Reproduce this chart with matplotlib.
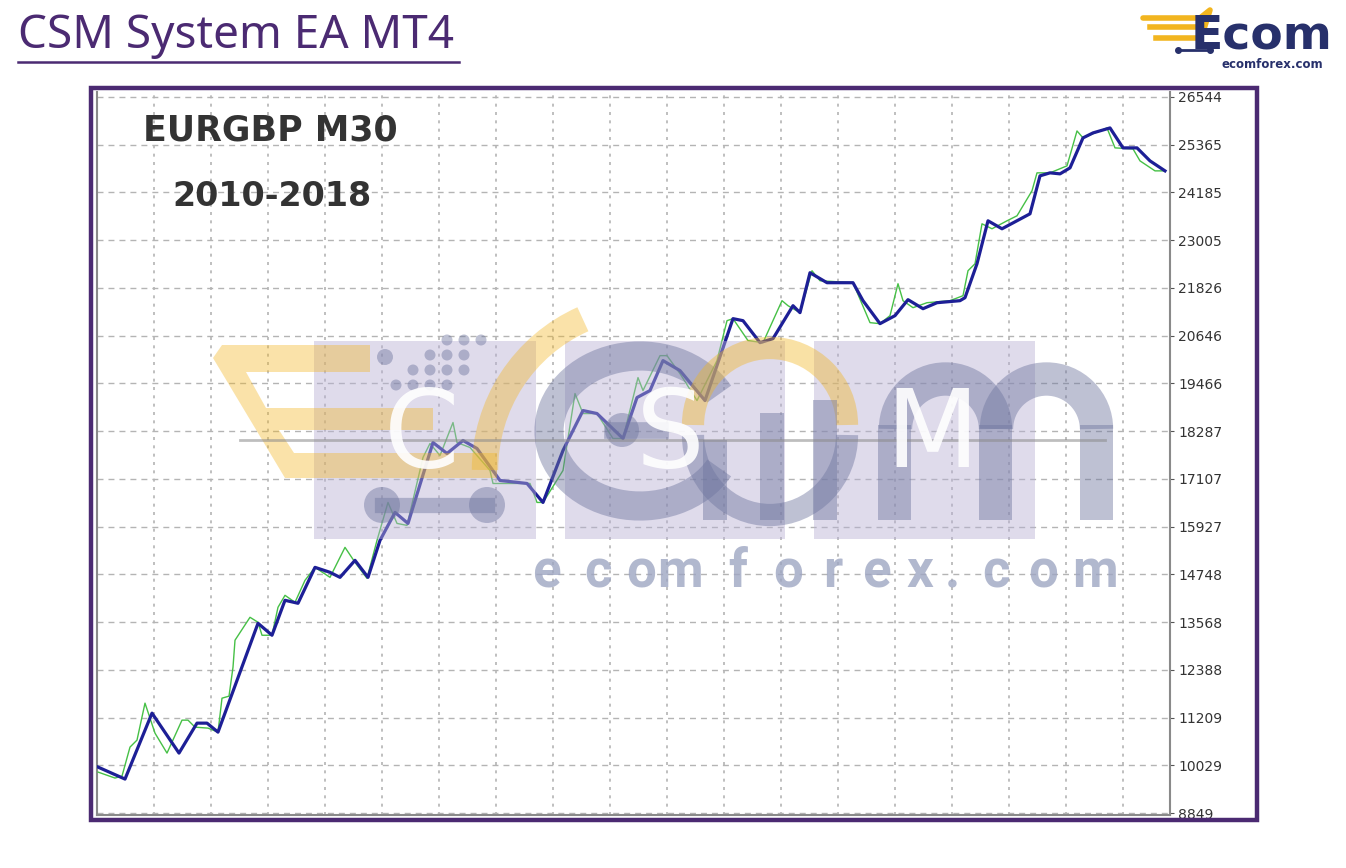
"""CSM System EA MT4 - EURGBP M30 backtest equity curve (2010-2018)."""
import matplotlib
matplotlib.use("Agg")
import matplotlib.pyplot as plt
import matplotlib.patches as mpatches
import numpy as np

# ---- data (trade index, equity) ----
blue_t = [1, 28, 55, 82, 100, 110, 121, 161, 175, 188, 201, 218, 233, 243, 258, 271,
          283, 298, 311, 336, 350, 366, 380, 403, 430, 446, 466, 486, 500, 526, 540, 553,
          566, 583, 608, 636, 646, 663, 676, 696, 703, 713, 730, 756, 766, 783, 798, 811,
          826, 840, 863, 868, 880, 891, 905, 933, 943, 953, 963, 973, 986, 996, 1013, 1026,
          1040, 1053, 1068]
blue_v = [9984, 9688, 11317, 10330, 11070, 11070, 10848, 13538, 13242, 14106, 14032, 14920,
          14797, 14673, 15093, 14673, 15587, 16278, 16006, 18005, 17734, 18055, 17857, 17067,
          16993, 16524, 17808, 18795, 18721, 18104, 19116, 19289, 20029, 19782, 19042, 21066,
          21016, 20473, 20572, 21386, 21214, 22201, 21954, 21954, 21510, 20942, 21140, 21535,
          21312, 21460, 21510, 21584, 22423, 23484, 23287, 23657, 24595, 24669, 24644, 24792,
          25533, 25656, 25779, 25286, 25286, 24965, 24718]

green_t = [1, 18, 25, 33, 40, 48, 58, 70, 85, 91, 98, 111, 121, 125, 132, 136, 138, 153,
           161, 165, 175, 181, 188, 198, 208, 218, 233, 248, 258, 270, 280, 291, 300, 310,
           326, 333, 343, 356, 360, 373, 393, 396, 433, 440, 446, 466, 478, 486, 500, 516,
           526, 541, 546, 563, 570, 583, 600, 620, 630, 636, 651, 666, 685, 691, 703, 715,
           723, 756, 773, 783, 793, 801, 806, 816, 830, 853, 866, 871, 878, 885, 895, 910,
           920, 935, 940, 953, 970, 980, 986, 1010, 1018, 1036, 1043, 1058, 1068]
green_v = [9861, 9713, 9762, 10478, 10651, 11564, 10823, 10330, 11144, 11144, 10971, 10947,
           10848, 11687, 11737, 12452, 13119, 13686, 13563, 13242, 13242, 13933, 14229, 14056,
           14599, 14920, 14673, 15414, 15044, 14649, 15587, 16524, 16006, 15957, 17635, 17981,
           17684, 18499, 18005, 17882, 17314, 16993, 16993, 16524, 16524, 17314, 19215, 18721,
           18721, 18104, 18104, 19609, 19289, 20152, 20152, 19708, 19042, 20029, 21016, 21066,
           20523, 20473, 21510, 21386, 21214, 22250, 22003, 21954, 20967, 20942, 21140, 21929,
           21510, 21337, 21460, 21510, 21633, 22250, 22423, 23410, 23287, 23484, 23608, 24225,
           24669, 24669, 24842, 25705, 25533, 25779, 25286, 25261, 24965, 24718, 24718]

y_ticks = [8849, 10029, 11209, 12388, 13568, 14748, 15927, 17107, 18287, 19466, 20646,
           21826, 23005, 24185, 25365, 26544]
x_grid = np.arange(57, 1073, 57)

W, H = 1346, 868
fig = plt.figure(figsize=(W / 100, H / 100), dpi=100)
fig.patch.set_facecolor("white")

# ---- main chart ----
ax = fig.add_axes([97 / W, 1 - 815 / H, (1170 - 97) / W, (815 - 92) / H])
ax.set_xlim(0, 1073)
ax.set_ylim(8800, 26667)
ax.set_yticks(y_ticks)
ax.set_xticks(x_grid)
ax.yaxis.tick_right()
ax.tick_params(axis="y", length=3, width=0.8, color="#555555", labelsize=10,
               labelcolor="#333333", pad=3)
ax.tick_params(axis="x", length=0, labelbottom=False)
ax.grid(False)
for y in y_ticks:
    ax.axhline(y, color="#b4b4b4", lw=1.0, ls=(0, (4.3, 3.6)), zorder=1)
for x in x_grid:
    ax.axvline(x, color="#b4b4b4", lw=1.2, ls=(0, (1.8, 3.2)), zorder=1)
ax.spines["top"].set_visible(False)
for s in ("left", "right", "bottom"):
    ax.spines[s].set_color("#8a8a8a")
    ax.spines[s].set_linewidth(1.5)

ax.plot(green_t, green_v, color="#46c046", lw=1.0, zorder=3)
ax.plot(blue_t, blue_v, color="#1d1f96", lw=2.3, zorder=4, solid_joinstyle="round")

ax.text(0.043, 0.947, "EURGBP M30", transform=ax.transAxes, fontsize=25, fontweight="bold",
        color="#333333", va="center", ha="left", family="DejaVu Sans")
ax.text(0.07, 0.856, "2010-2018", transform=ax.transAxes, fontsize=24, fontweight="bold",
        color="#333333", va="center", ha="left", family="DejaVu Sans")

# ---- overlay in pixel coords: frame, heading, logo, watermark ----
ov = fig.add_axes([0, 0, 1, 1])
ov.set_xlim(0, W)
ov.set_ylim(H, 0)
ov.axis("off")
ov.patch.set_alpha(0)
ov.set_zorder(10)

ov.add_patch(mpatches.Rectangle((91, 88), 1166, 732, fill=False, ec="#4b2a72", lw=3.2))

ov.text(18, 36, "CSM System EA MT4", fontsize=33, color="#4b2a72", va="center", ha="left",
        family=["Noto Sans", "DejaVu Sans"])
ov.plot([18, 459], [62, 62], color="#4b2a72", lw=1.8)

# logo top right
yel = "#f2b51f"
navy = "#27306b"
ov.plot([1143, 1200, 1210, 1203], [18, 18, 10, 32], color=yel, lw=4, solid_capstyle="round")
ov.plot([1150, 1198], [27, 27], color=yel, lw=4)
ov.plot([1156, 1196], [38, 38], color=yel, lw=4)
ov.plot([1178, 1210], [50, 50], color=navy, lw=2)
ov.plot([1178, 1210], [50, 50], "o", color=navy, ms=4)
ov.text(1262, 36, "Ecom", fontsize=34, fontweight="bold", color=navy, va="center",
        ha="center", family="DejaVu Sans")
ov.text(1272, 64, "ecomforex.com", fontsize=8.5, fontweight="bold", color=navy,
        va="center", ha="center", family="DejaVu Sans")

# watermark
wy = "#f2b51f"
wg = "#6f769f"
for bx, bw in ((314, 222), (565, 220), (814, 221)):
    ov.add_patch(mpatches.Rectangle((bx, 341), bw, 198, fc="#b8b0d4", ec="none", alpha=0.45))
cart = [[222, 345], [370, 345], [370, 372], [246, 372], [266, 408], [433, 408],
        [433, 430], [279, 430], [294, 453], [497, 453], [497, 478], [285, 478], [213, 358]]
ov.add_patch(mpatches.Polygon(cart, closed=True, fc=wy, ec="none", alpha=0.38))
ov.add_patch(mpatches.Arc((650, 470), 330, 330, theta1=180, theta2=246, lw=19,
                          color=wy, alpha=0.38))
# big gray "e"
ov.add_patch(mpatches.Arc((640, 431), 182, 150, theta1=25, theta2=335, lw=21,
                          color=wg, alpha=0.45))
ov.plot([612, 660], [430, 430], color=wg, lw=12, alpha=0.45)
ov.add_patch(mpatches.Circle((622, 430), 17, fc=wg, ec="none", alpha=0.45))
# "o" with equaliser bars
ov.add_patch(mpatches.Arc((770, 425), 154, 154, theta1=180, theta2=360, lw=16,
                          color=wy, alpha=0.4))
ov.add_patch(mpatches.Arc((770, 435), 154, 160, theta1=0, theta2=180, lw=16,
                          color=wg, alpha=0.45))
for bx, top in ((703, 440), (760, 413), (813, 400)):
    ov.add_patch(mpatches.Rectangle((bx, top), 24, 520 - top, fc=wg, ec="none", alpha=0.45))
# big gray "m"
for sx in (878, 979, 1080):
    ov.add_patch(mpatches.Rectangle((sx, 425), 33, 95, fc=wg, ec="none", alpha=0.45))
for cx in (945.5, 1046.5):
    ov.add_patch(mpatches.Arc((cx, 429), 100, 100, theta1=180, theta2=360, lw=24,
                              color=wg, alpha=0.45))
# dots and connector
dots = [(447, 340), (464, 340), (481, 340), (430, 355), (447, 355), (464, 355),
        (413, 370), (430, 370), (447, 370), (464, 370), (396, 385), (413, 385),
        (430, 385), (447, 385)]
for dx, dy in dots:
    ov.add_patch(mpatches.Circle((dx, dy), 5.5, fc=wg, ec="none", alpha=0.45))
ov.add_patch(mpatches.Circle((385, 357), 8, fc=wg, ec="none", alpha=0.45))
for cx in (382, 487):
    ov.add_patch(mpatches.Circle((cx, 505), 18, fc=wg, ec="none", alpha=0.45))
ov.plot([382, 487], [505, 505], color=wg, lw=11, alpha=0.45)
ov.plot([240, 1105], [440, 440], color="#8a8a8a", lw=2, alpha=0.55)
for ch, cx in zip("CSM", (422, 670, 932)):
    ov.text(cx, 437, ch, fontsize=78, color="white", alpha=0.9, ha="center", va="center",
            family="DejaVu Sans")
wm_chars = list("ecomforex.com")
wm_x = [546, 598, 641, 680, 738, 788, 833, 876, 920, 952, 996, 1043, 1095]
for ch, cx in zip(wm_chars, wm_x):
    ov.text(cx, 587, ch, fontsize=38, fontweight="bold", color="#9ea6c2",
            alpha=0.8, ha="center", va="baseline", family=["Roboto", "DejaVu Sans"])

fig.savefig("out.png", dpi=100)
plt.close()
